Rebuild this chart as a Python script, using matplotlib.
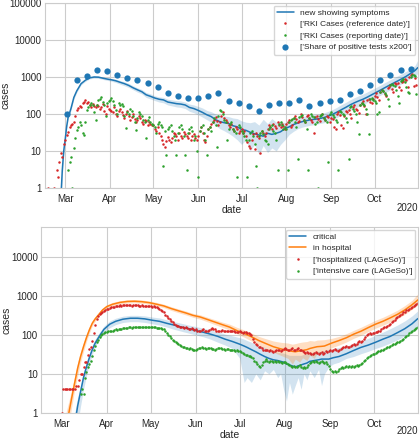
import matplotlib
matplotlib.use("Agg")
import matplotlib.pyplot as plt
import matplotlib.dates as mdates
import matplotlib.ticker as mticker
import numpy as np
import seaborn as sns

nan = np.nan
START = np.datetime64("2020-03-01")

# --- pannello superiore: casi ---------------------------------------------
# curva "new showing symptoms": giorno (da 1 marzo), mediana e banda
sym_day = [-3, -2, -1, 0, 1, 2, 4, 6, 8, 11, 14, 17, 20, 23, 26, 29, 32, 35, 38, 41, 44, 47,
           50, 53, 56, 59, 62, 65, 68, 71, 74, 77, 80, 83, 86, 89, 92, 95, 98, 101, 104, 107,
           110, 113, 116, 119, 122, 125, 128, 131, 134, 137, 140, 143, 146, 149, 152, 155, 158,
           161, 164, 167, 170, 173, 176, 179, 182, 185, 188, 191, 194, 197, 200, 203, 206, 209,
           212, 215, 218, 221, 224, 227, 230, 233, 236, 239, 242, 244]
sym_mid = [0.5, 3, 10, 20, 45, 80, 140, 280, 420, 660, 820, 950, 1000, 990, 930, 880, 840, 790,
           720, 660, 590, 510, 450, 400, 330, 300, 270, 250, 240, 210, 200, 190, 185, 175, 150,
           140, 125, 110, 95, 85, 70, 62, 58, 55, 48, 45, 38, 36, 32, 29, 27, 25, 30, 28, 30, 33,
           40, 45, 52, 57, 62, 66, 70, 72, 75, 80, 88, 98, 112, 130, 150, 175, 200, 225, 250, 285,
           330, 380, 440, 510, 590, 680, 780, 900, 1050, 1250, 1500, 1800]
sym_lo = [0.3, 2, 8, 17, 40, 70, 125, 250, 380, 610, 760, 890, 930, 920, 860, 810, 770, 710,
          640, 580, 520, 450, 390, 350, 280, 255, 230, 210, 200, 175, 165, 155, 150, 140, 118,
          108, 95, 82, 70, 60, 48, 40, 35, 30, 25, 20, 15, 20, 10, 15, 8, 14, 9, 12, 10, 15,
          20, 28, 34, 40, 44, 47, 50, 52, 55, 58, 64, 70, 80, 93, 107, 125, 142, 160, 178, 205,
          240, 275, 320, 370, 430, 500, 570, 660, 770, 910, 1080, 1250]
sym_hi = [0.8, 4, 12, 24, 52, 90, 160, 310, 460, 710, 880, 1010, 1070, 1060, 1000, 950, 920,
          870, 800, 740, 670, 580, 510, 460, 380, 350, 310, 290, 280, 250, 240, 230, 225, 210,
          185, 175, 160, 145, 125, 115, 100, 92, 88, 85, 78, 75, 65, 60, 58, 62, 50, 72, 55, 75,
          60, 62, 58, 65, 72, 78, 84, 90, 95, 98, 100, 108, 118, 132, 152, 178, 205, 240, 275,
          310, 345, 395, 455, 520, 600, 700, 810, 930, 1070, 1230, 1430, 1700, 2050, 2900]

# RKI per data di riferimento (giornaliero, dal 18 febbraio)
rki_ref_start = np.datetime64("2020-02-18")
rki_ref_feb = [1, nan, nan, nan, 1, nan, 3, 2, 5, 9, 7, 15]
rki_ref_mar = [20, 27, 33, 45, 50, 55, 60, 90, 127, 145, 160, 150, 200, 215, 240, 200, 210, 175,
               150, 190, 165, 150, 180, 160, 140, 150, 190, 120, 100, 160, 140]
rki_ref_apr = [130, 120, 110, 150, 100, 90, 120, 140, 110, 95, 80, 100, 120, 90, 70, 85, 100, 75,
               60, 70, 90, 80, 60, 55, 70, 65, 50, 60, 55, 50]
rki_ref_may = [50, 40, 35, 45, 30, 25, 20, 15, 13, 18, 24, 20, 17, 22, 30, 28, 25, 20, 31, 26, 22,
               32, 28, 25, 22, 30, 20, 25, 28, 22, 20]
rki_ref_jun = [25, 35, 45, 30, 20, 17, 25, 40, 45, 55, 60, 70, 83, 65, 50, 60, 90, 110, 80, 70, 60,
               50, 45, 55, 40, 35, 45, 40, 30, 35]
rki_ref_jul = [40, 30, 35, 25, 17, 14, 12, 20, 28, 11, 30, 25, 22, 9, 35, 30, 25, 30, 40, 50, 45,
               38, 55, 48, 42, 60, 50, 45, 55, 48, 40]
rki_ref_aug = [55, 60, 70, 45, 50, 80, 90, 75, 60, 65, 100, 85, 70, 60, 90, 95, 80, 70, 60, 30, 85,
               90, 75, 65, 95, 100, 80, 70, 90, 85, 60]
rki_ref_sep = [80, 75, 45, 40, 100, 110, 95, 50, 42, 90, 120, 110, 126, 100, 80, 150, 170, 140,
               130, 107, 180, 200, 220, 160, 100, 240, 260, 210, 200, 250]
rki_ref_oct = [300, 370, 280, 240, 400, 450, 420, 350, 300, 500, 550, 600, 480, 400, 690, 650, 700,
               550, 450, 750, 800, 900, 850, 550, 1000, 1100, 1200, 570, 950, 620, nan]

# RKI per data di notifica (giornaliero, dal 1 marzo)
rki_rep_mar = [nan, nan, 3, 5, 7, 1, 12, 22, 37, 45, 60, 50, 31, 27, 62, 127, 150, 180, 200, 170,
               110, 69, 180, 240, 260, 295, 215, 180, 90, 200, 230]
rki_rep_apr = [240, 270, 220, 180, 127, 100, 200, 175, 190, 160, 90, 42, 115, 100, 140, 120, 90,
               60, 37, 80, 110, 100, 90, 70, 60, 22, 70, 85, 60, 55]
rki_rep_may = [50, 45, 30, 55, 60, 50, 45, 4, 35, 8, 40, 45, 50, 35, 25, 20, 8, 30, 45, 50, 40, 25,
               8, 3, 30, 40, 45, 35, 20, 25, 10]
rki_rep_jun = [2, 35, 45, 50, 30, 20, 8, 40, 45, 35, 60, 80, 50, 13, 90, 130, 120, 100, 70, 60, 20,
               40, 55, 60, 40, 35, 30, 2, 50, 45]
rki_rep_jul = [35, 30, 25, 20, 2, 20, 30, 35, 25, 15, 4, 1, 25, 30, 35, 28, 20, 18, 15, 40, 45, 50,
               35, 30, 20, 3, 55, 60, 50, 40, 45]
rki_rep_aug = [40, 3, 60, 70, 75, 80, 60, 45, 6, 85, 90, 95, 70, 60, 40, 3, 80, 100, 90, 85, 55, 60,
               1, 90, 95, 100, 80, 70, 60, 5, 100]
rki_rep_sep = [110, 95, 85, 70, 60, 3, 120, 110, 100, 95, 80, 60, 6, 150, 160, 140, 120, 100, 59,
               29, 180, 200, 190, 170, 140, 100, 29, 250, 270, 240]
rki_rep_oct = [220, 200, 98, 110, 400, 450, 420, 380, 320, 250, 165, 600, 650, 620, 580, 450, 300,
               200, 800, 850, 900, 750, 550, 400, 360, 1000, 1100, 1150, 1050, 350, nan]

# quota di test positivi x200 (settimanale, dal 2 marzo)
pos_start = np.datetime64("2020-03-02")
pos_share = [100, 850, 1050, 1500, 1450, 1150, 920, 850, 700, 520, 360, 300, 265, 265, 300, 380,
             220, 200, 160, 120, 180, 200, 200, 240, 160, 200, 220, 240, 350, 420, 600, 820, 1150,
             1500, 1650]

# --- pannello inferiore: ospedale --------------------------------------------
hosp_day = [3, 5, 7, 9, 11, 13, 15, 17, 19, 21, 23, 25, 28, 31, 35, 40, 45, 50, 55, 60, 65, 70,
            75, 80, 85, 90, 95, 100, 105, 110, 115, 120, 125, 130, 135, 140, 145, 150, 155, 158,
            160, 163, 165, 168, 170, 173, 175, 178, 180, 185, 190, 195, 200, 205, 210, 215, 220,
            225, 230, 235, 240, 244]
hosp_mid = [0.4, 1, 2.5, 6, 14, 28, 50, 85, 135, 200, 260, 320, 440, 540, 620, 690, 730, 740, 720,
            680, 620, 560, 480, 420, 370, 320, 290, 250, 215, 185, 160, 130, 110, 90, 72, 60, 50,
            44, 40, 38, 37, 39, 40, 42, 45, 48, 50, 51, 52, 62, 72, 85, 105, 125, 155, 190, 225,
            275, 340, 440, 600, 800]
hosp_lo = [0.2, 0.5, 1.5, 4, 9, 20, 38, 68, 112, 172, 228, 285, 395, 485, 560, 625, 665, 675,
           655, 615, 560, 505, 430, 375, 330, 285, 255, 218, 185, 158, 135, 108, 88, 70, 55, 44,
           36, 30, 25, 18, 24, 20, 26, 22, 30, 25, 34, 36, 38, 47, 55, 66, 82, 98, 122, 150, 178,
           215, 265, 340, 460, 600]
hosp_hi = [1.0, 2, 4, 9, 20, 38, 65, 105, 165, 235, 300, 365, 490, 600, 690, 765, 805, 815, 795,
           750, 690, 620, 535, 470, 415, 360, 330, 285, 248, 215, 190, 158, 135, 112, 92, 80, 70,
           65, 62, 58, 60, 64, 66, 68, 72, 70, 74, 75, 76, 82, 92, 108, 132, 158, 195, 240, 285,
           350, 435, 570, 780, 1150]

crit_day = [9, 11, 13, 15, 17, 19, 21, 23, 26, 29, 33, 37, 42, 47, 52, 57, 62, 67, 72, 77, 82, 87,
            92, 97, 102, 107, 112, 117, 122, 125, 127, 130, 133, 136, 139, 142, 145, 148, 150, 152,
            154, 156, 158, 160, 162, 164, 166, 168, 170, 173, 176, 178, 180, 183, 186, 190, 195,
            200, 205, 210, 215, 220, 225, 230, 235, 240, 244]
crit_mid = [0.5, 1.5, 3.5, 8, 15, 26, 42, 62, 95, 140, 190, 225, 255, 270, 270, 260, 240, 225, 200,
            180, 160, 145, 130, 118, 105, 92, 78, 68, 58, 52, 48, 42, 37, 32, 28, 25, 23, 22, 21,
            20, 18, 17, 16, 15, 16, 17, 18, 19, 21, 22, 23, 24, 24, 24, 26, 28, 33, 40, 48, 55, 65,
            78, 92, 115, 145, 195, 265]
crit_lo = [0.2, 0.5, 1.5, 4, 9, 18, 32, 50, 78, 115, 155, 185, 210, 220, 220, 210, 195, 180, 160,
           140, 125, 112, 100, 90, 78, 65, 55, 45, 25, 6, 8, 6, 10, 7, 12, 10, 13, 8, 10, 4, 2, 6,
           3, 5, 8, 4, 10, 7, 12, 8, 13, 5, 10, 15, 18, 20, 25, 28, 33, 38, 45, 52, 62, 75, 95,
           125, 160]
crit_hi = [1.0, 2.5, 5, 11, 20, 34, 54, 78, 118, 170, 230, 270, 305, 320, 320, 310, 290, 275, 245,
           220, 200, 180, 165, 150, 135, 120, 105, 95, 85, 78, 72, 65, 58, 52, 48, 42, 38, 36, 35,
           34, 32, 30, 30, 30, 30, 30, 32, 33, 35, 36, 38, 38, 40, 42, 44, 48, 52, 60, 70, 82, 98,
           118, 145, 180, 230, 310, 420]

# LAGeSo ricoverati (giornaliero, dal 1 marzo)
lag_hosp_mar = [1, 4, 4, 4, 4, 4, 4, 4, 4, 4, 5, 5, 7, 10, 10, 15, 20, 20, 30, 44, 48, 70, 110,
                180, 257, 300, 345, 360, 380, 420, 450]
lag_hosp_apr = [470, 480, 500, 520, 530, 540, 560, 565, 570, 580, 560, 590, 600, 590, 590, 600,
                580, 570, 580, 590, 600, 590, 570, 560, 580, 570, 550, 560, 570, 550]
lag_hosp_may = [550, 540, 560, 530, 520, 500, 480, 450, 420, 380, 330, 300, 270, 260, 230, 210,
                190, 180, 175, 170, 165, 160, 160, 155, 160, 150, 145, 140, 150, 140, 135]
lag_hosp_jun = [140, 130, 128, 130, 135, 140, 130, 125, 130, 135, 140, 150, 145, 140, 130, 128,
                125, 130, 135, 130, 128, 130, 125, 128, 130, 128, 125, 120, 118, 120]
lag_hosp_jul = [125, 120, 115, 118, 120, 115, 110, 105, 100, 80, 66, 60, 55, 50, 48, 45, 42, 40,
                42, 40, 38, 40, 38, 37, 38, 40, 42, 40, 38, 42, 44]
lag_hosp_aug = [45, 44, 42, 40, 43, 45, 42, 40, 44, 46, 42, 40, 38, 36, 35, 36, 34, 35, 33, 32,
                34, 36, 35, 33, 35, 36, 33, 35, 38, 36, 38]
lag_hosp_sep = [40, 38, 42, 44, 40, 38, 42, 44, 45, 48, 50, 52, 48, 50, 52, 55, 58, 55, 60, 65,
                70, 68, 72, 80, 90, 100, 105, 110, 108, 115]
lag_hosp_oct = [115, 117, 120, 125, 130, 140, 150, 160, 165, 173, 180, 195, 210, 230, 250, 270,
                290, 300, 320, 350, 380, 400, 430, 450, 470, 500, 530, 560, 600, 640, 660]

# LAGeSo terapia intensiva (giornaliero, dal 14 marzo)
lag_icu_start = np.datetime64("2020-03-14")
lag_icu_mar = [3, 4, 3, 8, 11, 15, 18, 22, 29, 40, 53, 66, 75, 88, 100, 107, 112, 118]
lag_icu_apr = [120, 125, 128, 130, 130, 135, 140, 138, 142, 140, 145, 150, 148, 150, 155, 160,
               158, 155, 160, 162, 158, 160, 165, 160, 158, 162, 165, 160, 158, 162]
lag_icu_may = [160, 158, 162, 160, 155, 150, 152, 148, 145, 142, 130, 115, 100, 95, 85, 75, 71,
               65, 62, 59, 55, 52, 50, 48, 46, 45, 44, 45, 44, 42, 40]
lag_icu_jun = [42, 44, 45, 46, 48, 46, 45, 44, 45, 46, 45, 44, 43, 42, 44, 45, 46, 45, 44, 43, 42,
               44, 43, 42, 41, 42, 40, 39, 40, 38]
lag_icu_jul = [38, 36, 34, 32, 30, 30, 28, 28, 27, 25, 22, 20, 18, 16, 15, 17, 20, 22, 24, 22, 20,
               21, 22, 20, 22, 20, 21, 20, 20, 19, 20]
lag_icu_aug = [20, 19, 18, 17, 16, 15, 16, 15, 15, 16, 17, 15, 14, 15, 14, 15, 17, 19, 20, 21, 20,
               21, 20, 19, 20, 21, 20, 19, 20, 18, 16]
lag_icu_sep = [13, 12, 11, 12, 11, 12, 13, 14, 15, 14, 15, 16, 15, 16, 15, 16, 15, 16, 17, 16, 17,
               18, 19, 21, 23, 25, 27, 29, 30, 32]
lag_icu_oct = [33, 35, 36, 38, 39, 40, 42, 44, 46, 48, 50, 52, 55, 58, 60, 62, 65, 68, 70, 75, 80,
               88, 95, 100, 110, 118, 125, 135, 145, 155, 165]

XLIM = (np.datetime64("2020-02-16"), np.datetime64("2020-10-31"))
YEAR = "2020"

BLUE = "#1f77b4"
ORANGE = "#ff7f0e"
RED = "#d62728"
GREEN = "#2ca02c"


def daily(start, *parts):
    vals = np.concatenate([np.asarray(p, dtype=float) for p in parts])
    return start + np.arange(len(vals)), vals


def offset_dates(days):
    return START + np.asarray(days)


def style_axis(ax, ylim, label_x, year_y):
    ax.set_yscale("log")
    ax.set_ylim(*ylim)
    ax.set_xlim(*XLIM)
    ax.yaxis.set_major_locator(mticker.LogLocator(base=10, numticks=10))
    ax.yaxis.set_major_formatter(mticker.FuncFormatter(lambda v, _: f"{v:g}"))
    ax.yaxis.set_minor_locator(mticker.NullLocator())
    loc = mdates.MonthLocator()
    # l'anno lo scrivo a mano sotto l'asse, altrimenti finisce fuori dal bordo
    ax.xaxis.set_major_locator(loc)
    ax.xaxis.set_major_formatter(mdates.ConciseDateFormatter(loc, offset_formats=[""] * 6))
    ax.tick_params(labelsize=7, length=0)
    ax.tick_params(axis="x", pad=4.5)
    ax.tick_params(axis="y", pad=2.5)
    ax.set_xlabel("date", fontsize=7.5, labelpad=0.5)
    ax.set_ylabel("cases", fontsize=7.5)
    ax.yaxis.set_label_coords(label_x, 0.5)
    ax.text(1.0, year_y, YEAR, transform=ax.transAxes, ha="right", va="center",
            fontsize=7, color=".15")


sns.set_style("whitegrid")
plt.rcParams["font.family"] = ["Liberation Sans", "DejaVu Sans"]

fig = plt.figure(figsize=(4.2, 4.4), dpi=100)
ax1 = fig.add_axes([0.107, 0.573, 0.888, 0.42])
ax2 = fig.add_axes([0.098, 0.062, 0.897, 0.422])

# pannello superiore
d = offset_dates(sym_day)
ax1.fill_between(d, sym_lo, sym_hi, color=BLUE, alpha=0.2, linewidth=0)
ax1.plot(d, sym_mid, color=BLUE, lw=1.1, label="new showing symptoms")
x, y = daily(rki_ref_start, rki_ref_feb, rki_ref_mar, rki_ref_apr, rki_ref_may, rki_ref_jun,
             rki_ref_jul, rki_ref_aug, rki_ref_sep, rki_ref_oct)
ax1.plot(x, y, ls="", marker="o", ms=1.8, mew=0, color=RED,
         label="['RKI Cases (reference date)']")
x, y = daily(START, rki_rep_mar, rki_rep_apr, rki_rep_may, rki_rep_jun, rki_rep_jul,
             rki_rep_aug, rki_rep_sep, rki_rep_oct)
ax1.plot(x, y, ls="", marker="o", ms=1.8, mew=0, color=GREEN,
         label="['RKI Cases (reporting date)']")
x = pos_start + 7 * np.arange(len(pos_share))
ax1.plot(x, pos_share, ls="", marker="o", ms=4.5, mew=0, color=BLUE,
         label="['Share of positive tests x200']")
style_axis(ax1, (1, 1e5), -0.092, -0.108)
ax1.legend(loc="upper right", fontsize=6, borderaxespad=0.3, handlelength=2.0,
           labelspacing=0.45, frameon=True)

# pannello inferiore
d = offset_dates(crit_day)
ax2.fill_between(d, crit_lo, crit_hi, color=BLUE, alpha=0.2, linewidth=0)
ax2.plot(d, crit_mid, color=BLUE, lw=1.1, label="critical")
d = offset_dates(hosp_day)
ax2.fill_between(d, hosp_lo, hosp_hi, color=ORANGE, alpha=0.25, linewidth=0)
ax2.plot(d, hosp_mid, color=ORANGE, lw=1.1, label="in hospital")
x, y = daily(START, lag_hosp_mar, lag_hosp_apr, lag_hosp_may, lag_hosp_jun, lag_hosp_jul,
             lag_hosp_aug, lag_hosp_sep, lag_hosp_oct)
ax2.plot(x, y, ls="", marker="o", ms=1.8, mew=0, color=RED,
         label="['hospitalized (LAGeSo)']")
x, y = daily(lag_icu_start, lag_icu_mar, lag_icu_apr, lag_icu_may, lag_icu_jun, lag_icu_jul,
             lag_icu_aug, lag_icu_sep, lag_icu_oct)
ax2.plot(x, y, ls="", marker="o", ms=1.8, mew=0, color=GREEN,
         label="['intensive care (LAGeSo)']")
style_axis(ax2, (1, 6e4), -0.080, -0.10)
ax2.legend(loc="upper right", fontsize=6, borderaxespad=0.3, handlelength=2.0,
           labelspacing=0.45, frameon=True)

fig.savefig("out.png", dpi=100)
